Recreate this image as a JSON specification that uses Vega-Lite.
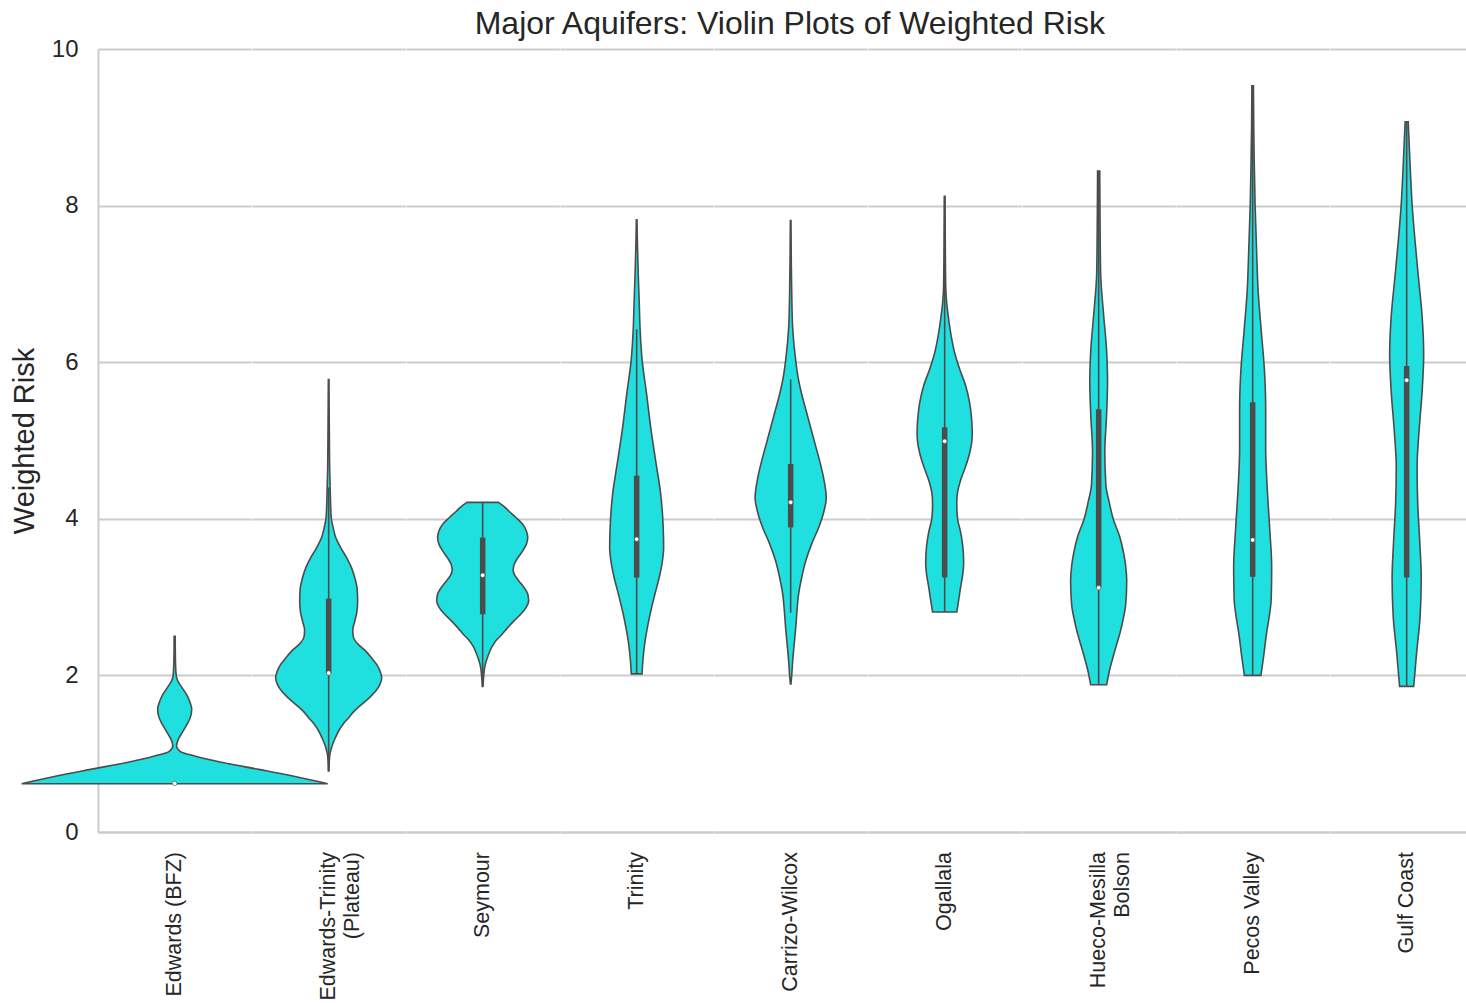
{
  "$schema": "https://vega.github.io/schema/vega-lite/v6.json",
  "padding": {"left": 10, "top": 8, "right": 0, "bottom": 0},
  "bounds": "flush",
  "title": {"text": "Major Aquifers: Violin Plots of Weighted Risk", "fontSize": 32, "fontWeight": "normal", "color": "#262626", "font": "Liberation Sans", "anchor": "middle", "offset": -4, "dx": 43},
  "config": {
    "view": {"stroke": null},
    "font": "Liberation Sans"
  },
  "data": {"values": [
    {"a": "Edwards (BFZ)", "k": "d", "v": 0.617, "d0": -0.998, "d1": 0.998},
    {"a": "Edwards (BFZ)", "k": "d", "v": 0.715, "d0": -0.770, "d1": 0.770},
    {"a": "Edwards (BFZ)", "k": "d", "v": 0.80, "d0": -0.548, "d1": 0.548},
    {"a": "Edwards (BFZ)", "k": "d", "v": 0.885, "d0": -0.320, "d1": 0.320},
    {"a": "Edwards (BFZ)", "k": "d", "v": 0.97, "d0": -0.131, "d1": 0.131},
    {"a": "Edwards (BFZ)", "k": "d", "v": 1.03, "d0": -0.035, "d1": 0.035},
    {"a": "Edwards (BFZ)", "k": "d", "v": 1.10, "d0": -0.012, "d1": 0.012},
    {"a": "Edwards (BFZ)", "k": "d", "v": 1.18, "d0": -0.023, "d1": 0.023},
    {"a": "Edwards (BFZ)", "k": "d", "v": 1.28, "d0": -0.052, "d1": 0.052},
    {"a": "Edwards (BFZ)", "k": "d", "v": 1.38, "d0": -0.082, "d1": 0.082},
    {"a": "Edwards (BFZ)", "k": "d", "v": 1.48, "d0": -0.105, "d1": 0.105},
    {"a": "Edwards (BFZ)", "k": "d", "v": 1.57, "d0": -0.111, "d1": 0.111},
    {"a": "Edwards (BFZ)", "k": "d", "v": 1.65, "d0": -0.101, "d1": 0.101},
    {"a": "Edwards (BFZ)", "k": "d", "v": 1.75, "d0": -0.079, "d1": 0.079},
    {"a": "Edwards (BFZ)", "k": "d", "v": 1.85, "d0": -0.046, "d1": 0.046},
    {"a": "Edwards (BFZ)", "k": "d", "v": 1.93, "d0": -0.020, "d1": 0.020},
    {"a": "Edwards (BFZ)", "k": "d", "v": 2.00, "d0": -0.010, "d1": 0.010},
    {"a": "Edwards (BFZ)", "k": "d", "v": 2.20, "d0": -0.005, "d1": 0.005},
    {"a": "Edwards (BFZ)", "k": "d", "v": 2.50, "d0": -0.0035, "d1": 0.0035},

    {"a": "Edwards-Trinity (Plateau)", "k": "d", "v": 0.78, "d0": -0.002, "d1": 0.002},
    {"a": "Edwards-Trinity (Plateau)", "k": "d", "v": 0.90, "d0": -0.004, "d1": 0.004},
    {"a": "Edwards-Trinity (Plateau)", "k": "d", "v": 0.99, "d0": -0.008, "d1": 0.008},
    {"a": "Edwards-Trinity (Plateau)", "k": "d", "v": 1.05, "d0": -0.015, "d1": 0.015},
    {"a": "Edwards-Trinity (Plateau)", "k": "d", "v": 1.12, "d0": -0.026, "d1": 0.026},
    {"a": "Edwards-Trinity (Plateau)", "k": "d", "v": 1.20, "d0": -0.043, "d1": 0.043},
    {"a": "Edwards-Trinity (Plateau)", "k": "d", "v": 1.29, "d0": -0.065, "d1": 0.065},
    {"a": "Edwards-Trinity (Plateau)", "k": "d", "v": 1.38, "d0": -0.095, "d1": 0.095},
    {"a": "Edwards-Trinity (Plateau)", "k": "d", "v": 1.46, "d0": -0.131, "d1": 0.131},
    {"a": "Edwards-Trinity (Plateau)", "k": "d", "v": 1.55, "d0": -0.170, "d1": 0.170},
    {"a": "Edwards-Trinity (Plateau)", "k": "d", "v": 1.63, "d0": -0.215, "d1": 0.215},
    {"a": "Edwards-Trinity (Plateau)", "k": "d", "v": 1.72, "d0": -0.268, "d1": 0.268},
    {"a": "Edwards-Trinity (Plateau)", "k": "d", "v": 1.80, "d0": -0.307, "d1": 0.307},
    {"a": "Edwards-Trinity (Plateau)", "k": "d", "v": 1.88, "d0": -0.333, "d1": 0.333},
    {"a": "Edwards-Trinity (Plateau)", "k": "d", "v": 1.97, "d0": -0.346, "d1": 0.346},
    {"a": "Edwards-Trinity (Plateau)", "k": "d", "v": 2.05, "d0": -0.336, "d1": 0.336},
    {"a": "Edwards-Trinity (Plateau)", "k": "d", "v": 2.14, "d0": -0.313, "d1": 0.313},
    {"a": "Edwards-Trinity (Plateau)", "k": "d", "v": 2.22, "d0": -0.281, "d1": 0.281},
    {"a": "Edwards-Trinity (Plateau)", "k": "d", "v": 2.31, "d0": -0.242, "d1": 0.242},
    {"a": "Edwards-Trinity (Plateau)", "k": "d", "v": 2.41, "d0": -0.186, "d1": 0.186},
    {"a": "Edwards-Trinity (Plateau)", "k": "d", "v": 2.50, "d0": -0.160, "d1": 0.160},
    {"a": "Edwards-Trinity (Plateau)", "k": "d", "v": 2.58, "d0": -0.157, "d1": 0.157},
    {"a": "Edwards-Trinity (Plateau)", "k": "d", "v": 2.69, "d0": -0.170, "d1": 0.170},
    {"a": "Edwards-Trinity (Plateau)", "k": "d", "v": 2.80, "d0": -0.183, "d1": 0.183},
    {"a": "Edwards-Trinity (Plateau)", "k": "d", "v": 2.95, "d0": -0.189, "d1": 0.189},
    {"a": "Edwards-Trinity (Plateau)", "k": "d", "v": 3.10, "d0": -0.186, "d1": 0.186},
    {"a": "Edwards-Trinity (Plateau)", "k": "d", "v": 3.25, "d0": -0.170, "d1": 0.170},
    {"a": "Edwards-Trinity (Plateau)", "k": "d", "v": 3.37, "d0": -0.150, "d1": 0.150},
    {"a": "Edwards-Trinity (Plateau)", "k": "d", "v": 3.50, "d0": -0.118, "d1": 0.118},
    {"a": "Edwards-Trinity (Plateau)", "k": "d", "v": 3.63, "d0": -0.079, "d1": 0.079},
    {"a": "Edwards-Trinity (Plateau)", "k": "d", "v": 3.76, "d0": -0.046, "d1": 0.046},
    {"a": "Edwards-Trinity (Plateau)", "k": "d", "v": 3.88, "d0": -0.030, "d1": 0.030},
    {"a": "Edwards-Trinity (Plateau)", "k": "d", "v": 4.01, "d0": -0.017, "d1": 0.017},
    {"a": "Edwards-Trinity (Plateau)", "k": "d", "v": 4.30, "d0": -0.011, "d1": 0.011},
    {"a": "Edwards-Trinity (Plateau)", "k": "d", "v": 4.60, "d0": -0.007, "d1": 0.007},
    {"a": "Edwards-Trinity (Plateau)", "k": "d", "v": 5.20, "d0": -0.004, "d1": 0.004},
    {"a": "Edwards-Trinity (Plateau)", "k": "d", "v": 5.78, "d0": -0.002, "d1": 0.002},

    {"a": "Seymour", "k": "d", "v": 1.86, "d0": -0.002, "d1": 0.002},
    {"a": "Seymour", "k": "d", "v": 2.00, "d0": -0.007, "d1": 0.007},
    {"a": "Seymour", "k": "d", "v": 2.10, "d0": -0.013, "d1": 0.013},
    {"a": "Seymour", "k": "d", "v": 2.18, "d0": -0.023, "d1": 0.023},
    {"a": "Seymour", "k": "d", "v": 2.27, "d0": -0.039, "d1": 0.039},
    {"a": "Seymour", "k": "d", "v": 2.36, "d0": -0.059, "d1": 0.059},
    {"a": "Seymour", "k": "d", "v": 2.44, "d0": -0.085, "d1": 0.085},
    {"a": "Seymour", "k": "d", "v": 2.52, "d0": -0.124, "d1": 0.124},
    {"a": "Seymour", "k": "d", "v": 2.61, "d0": -0.163, "d1": 0.163},
    {"a": "Seymour", "k": "d", "v": 2.70, "d0": -0.206, "d1": 0.206},
    {"a": "Seymour", "k": "d", "v": 2.78, "d0": -0.248, "d1": 0.248},
    {"a": "Seymour", "k": "d", "v": 2.87, "d0": -0.284, "d1": 0.284},
    {"a": "Seymour", "k": "d", "v": 2.95, "d0": -0.300, "d1": 0.300},
    {"a": "Seymour", "k": "d", "v": 3.04, "d0": -0.294, "d1": 0.294},
    {"a": "Seymour", "k": "d", "v": 3.12, "d0": -0.271, "d1": 0.271},
    {"a": "Seymour", "k": "d", "v": 3.21, "d0": -0.235, "d1": 0.235},
    {"a": "Seymour", "k": "d", "v": 3.28, "d0": -0.209, "d1": 0.209},
    {"a": "Seymour", "k": "d", "v": 3.35, "d0": -0.199, "d1": 0.199},
    {"a": "Seymour", "k": "d", "v": 3.42, "d0": -0.206, "d1": 0.206},
    {"a": "Seymour", "k": "d", "v": 3.50, "d0": -0.229, "d1": 0.229},
    {"a": "Seymour", "k": "d", "v": 3.59, "d0": -0.261, "d1": 0.261},
    {"a": "Seymour", "k": "d", "v": 3.67, "d0": -0.284, "d1": 0.284},
    {"a": "Seymour", "k": "d", "v": 3.76, "d0": -0.294, "d1": 0.294},
    {"a": "Seymour", "k": "d", "v": 3.85, "d0": -0.284, "d1": 0.284},
    {"a": "Seymour", "k": "d", "v": 3.93, "d0": -0.261, "d1": 0.261},
    {"a": "Seymour", "k": "d", "v": 4.02, "d0": -0.215, "d1": 0.215},
    {"a": "Seymour", "k": "d", "v": 4.10, "d0": -0.170, "d1": 0.170},
    {"a": "Seymour", "k": "d", "v": 4.15, "d0": -0.144, "d1": 0.144},
    {"a": "Seymour", "k": "d", "v": 4.21, "d0": -0.103, "d1": 0.103},

    {"a": "Trinity", "k": "d", "v": 2.02, "d0": -0.035, "d1": 0.035},
    {"a": "Trinity", "k": "d", "v": 2.20, "d0": -0.041, "d1": 0.041},
    {"a": "Trinity", "k": "d", "v": 2.40, "d0": -0.052, "d1": 0.052},
    {"a": "Trinity", "k": "d", "v": 2.60, "d0": -0.069, "d1": 0.069},
    {"a": "Trinity", "k": "d", "v": 2.82, "d0": -0.092, "d1": 0.092},
    {"a": "Trinity", "k": "d", "v": 3.03, "d0": -0.118, "d1": 0.118},
    {"a": "Trinity", "k": "d", "v": 3.25, "d0": -0.147, "d1": 0.147},
    {"a": "Trinity", "k": "d", "v": 3.45, "d0": -0.167, "d1": 0.167},
    {"a": "Trinity", "k": "d", "v": 3.63, "d0": -0.176, "d1": 0.176},
    {"a": "Trinity", "k": "d", "v": 3.89, "d0": -0.173, "d1": 0.173},
    {"a": "Trinity", "k": "d", "v": 4.10, "d0": -0.167, "d1": 0.167},
    {"a": "Trinity", "k": "d", "v": 4.31, "d0": -0.157, "d1": 0.157},
    {"a": "Trinity", "k": "d", "v": 4.74, "d0": -0.124, "d1": 0.124},
    {"a": "Trinity", "k": "d", "v": 5.16, "d0": -0.092, "d1": 0.092},
    {"a": "Trinity", "k": "d", "v": 5.59, "d0": -0.065, "d1": 0.065},
    {"a": "Trinity", "k": "d", "v": 6.02, "d0": -0.036, "d1": 0.036},
    {"a": "Trinity", "k": "d", "v": 6.44, "d0": -0.022, "d1": 0.022},
    {"a": "Trinity", "k": "d", "v": 6.75, "d0": -0.017, "d1": 0.017},
    {"a": "Trinity", "k": "d", "v": 7.08, "d0": -0.011, "d1": 0.011},
    {"a": "Trinity", "k": "d", "v": 7.50, "d0": -0.005, "d1": 0.005},
    {"a": "Trinity", "k": "d", "v": 7.82, "d0": -0.002, "d1": 0.002},

    {"a": "Carrizo-Wilcox", "k": "d", "v": 1.89, "d0": -0.002, "d1": 0.002},
    {"a": "Carrizo-Wilcox", "k": "d", "v": 2.00, "d0": -0.007, "d1": 0.007},
    {"a": "Carrizo-Wilcox", "k": "d", "v": 2.18, "d0": -0.013, "d1": 0.013},
    {"a": "Carrizo-Wilcox", "k": "d", "v": 2.40, "d0": -0.023, "d1": 0.023},
    {"a": "Carrizo-Wilcox", "k": "d", "v": 2.61, "d0": -0.033, "d1": 0.033},
    {"a": "Carrizo-Wilcox", "k": "d", "v": 2.82, "d0": -0.041, "d1": 0.041},
    {"a": "Carrizo-Wilcox", "k": "d", "v": 3.04, "d0": -0.052, "d1": 0.052},
    {"a": "Carrizo-Wilcox", "k": "d", "v": 3.25, "d0": -0.072, "d1": 0.072},
    {"a": "Carrizo-Wilcox", "k": "d", "v": 3.46, "d0": -0.098, "d1": 0.098},
    {"a": "Carrizo-Wilcox", "k": "d", "v": 3.68, "d0": -0.137, "d1": 0.137},
    {"a": "Carrizo-Wilcox", "k": "d", "v": 3.89, "d0": -0.183, "d1": 0.183},
    {"a": "Carrizo-Wilcox", "k": "d", "v": 4.08, "d0": -0.215, "d1": 0.215},
    {"a": "Carrizo-Wilcox", "k": "d", "v": 4.27, "d0": -0.232, "d1": 0.232},
    {"a": "Carrizo-Wilcox", "k": "d", "v": 4.52, "d0": -0.215, "d1": 0.215},
    {"a": "Carrizo-Wilcox", "k": "d", "v": 4.74, "d0": -0.189, "d1": 0.189},
    {"a": "Carrizo-Wilcox", "k": "d", "v": 4.95, "d0": -0.160, "d1": 0.160},
    {"a": "Carrizo-Wilcox", "k": "d", "v": 5.16, "d0": -0.131, "d1": 0.131},
    {"a": "Carrizo-Wilcox", "k": "d", "v": 5.38, "d0": -0.101, "d1": 0.101},
    {"a": "Carrizo-Wilcox", "k": "d", "v": 5.59, "d0": -0.072, "d1": 0.072},
    {"a": "Carrizo-Wilcox", "k": "d", "v": 5.80, "d0": -0.049, "d1": 0.049},
    {"a": "Carrizo-Wilcox", "k": "d", "v": 6.02, "d0": -0.033, "d1": 0.033},
    {"a": "Carrizo-Wilcox", "k": "d", "v": 6.44, "d0": -0.013, "d1": 0.013},
    {"a": "Carrizo-Wilcox", "k": "d", "v": 6.87, "d0": -0.007, "d1": 0.007},
    {"a": "Carrizo-Wilcox", "k": "d", "v": 7.30, "d0": -0.004, "d1": 0.004},
    {"a": "Carrizo-Wilcox", "k": "d", "v": 7.81, "d0": -0.002, "d1": 0.002},

    {"a": "Ogallala", "k": "d", "v": 2.81, "d0": -0.079, "d1": 0.079},
    {"a": "Ogallala", "k": "d", "v": 2.97, "d0": -0.092, "d1": 0.092},
    {"a": "Ogallala", "k": "d", "v": 3.14, "d0": -0.105, "d1": 0.105},
    {"a": "Ogallala", "k": "d", "v": 3.29, "d0": -0.118, "d1": 0.118},
    {"a": "Ogallala", "k": "d", "v": 3.44, "d0": -0.124, "d1": 0.124},
    {"a": "Ogallala", "k": "d", "v": 3.65, "d0": -0.118, "d1": 0.118},
    {"a": "Ogallala", "k": "d", "v": 3.82, "d0": -0.105, "d1": 0.105},
    {"a": "Ogallala", "k": "d", "v": 3.99, "d0": -0.085, "d1": 0.085},
    {"a": "Ogallala", "k": "d", "v": 4.10, "d0": -0.080, "d1": 0.080},
    {"a": "Ogallala", "k": "d", "v": 4.21, "d0": -0.079, "d1": 0.079},
    {"a": "Ogallala", "k": "d", "v": 4.35, "d0": -0.085, "d1": 0.085},
    {"a": "Ogallala", "k": "d", "v": 4.50, "d0": -0.105, "d1": 0.105},
    {"a": "Ogallala", "k": "d", "v": 4.67, "d0": -0.137, "d1": 0.137},
    {"a": "Ogallala", "k": "d", "v": 4.84, "d0": -0.163, "d1": 0.163},
    {"a": "Ogallala", "k": "d", "v": 4.97, "d0": -0.176, "d1": 0.176},
    {"a": "Ogallala", "k": "d", "v": 5.10, "d0": -0.180, "d1": 0.180},
    {"a": "Ogallala", "k": "d", "v": 5.27, "d0": -0.176, "d1": 0.176},
    {"a": "Ogallala", "k": "d", "v": 5.48, "d0": -0.163, "d1": 0.163},
    {"a": "Ogallala", "k": "d", "v": 5.70, "d0": -0.137, "d1": 0.137},
    {"a": "Ogallala", "k": "d", "v": 5.91, "d0": -0.098, "d1": 0.098},
    {"a": "Ogallala", "k": "d", "v": 6.12, "d0": -0.065, "d1": 0.065},
    {"a": "Ogallala", "k": "d", "v": 6.33, "d0": -0.043, "d1": 0.043},
    {"a": "Ogallala", "k": "d", "v": 6.55, "d0": -0.026, "d1": 0.026},
    {"a": "Ogallala", "k": "d", "v": 6.76, "d0": -0.013, "d1": 0.013},
    {"a": "Ogallala", "k": "d", "v": 6.97, "d0": -0.007, "d1": 0.007},
    {"a": "Ogallala", "k": "d", "v": 7.50, "d0": -0.004, "d1": 0.004},
    {"a": "Ogallala", "k": "d", "v": 8.12, "d0": -0.002, "d1": 0.002},

    {"a": "Hueco-Mesilla Bolson", "k": "d", "v": 1.88, "d0": -0.052, "d1": 0.052},
    {"a": "Hueco-Mesilla Bolson", "k": "d", "v": 2.05, "d0": -0.069, "d1": 0.069},
    {"a": "Hueco-Mesilla Bolson", "k": "d", "v": 2.25, "d0": -0.096, "d1": 0.096},
    {"a": "Hueco-Mesilla Bolson", "k": "d", "v": 2.40, "d0": -0.118, "d1": 0.118},
    {"a": "Hueco-Mesilla Bolson", "k": "d", "v": 2.55, "d0": -0.140, "d1": 0.140},
    {"a": "Hueco-Mesilla Bolson", "k": "d", "v": 2.72, "d0": -0.160, "d1": 0.160},
    {"a": "Hueco-Mesilla Bolson", "k": "d", "v": 2.90, "d0": -0.176, "d1": 0.176},
    {"a": "Hueco-Mesilla Bolson", "k": "d", "v": 3.21, "d0": -0.183, "d1": 0.183},
    {"a": "Hueco-Mesilla Bolson", "k": "d", "v": 3.40, "d0": -0.176, "d1": 0.176},
    {"a": "Hueco-Mesilla Bolson", "k": "d", "v": 3.56, "d0": -0.163, "d1": 0.163},
    {"a": "Hueco-Mesilla Bolson", "k": "d", "v": 3.78, "d0": -0.136, "d1": 0.136},
    {"a": "Hueco-Mesilla Bolson", "k": "d", "v": 3.99, "d0": -0.096, "d1": 0.096},
    {"a": "Hueco-Mesilla Bolson", "k": "d", "v": 4.21, "d0": -0.069, "d1": 0.069},
    {"a": "Hueco-Mesilla Bolson", "k": "d", "v": 4.43, "d0": -0.047, "d1": 0.047},
    {"a": "Hueco-Mesilla Bolson", "k": "d", "v": 4.86, "d0": -0.040, "d1": 0.040},
    {"a": "Hueco-Mesilla Bolson", "k": "d", "v": 5.30, "d0": -0.051, "d1": 0.051},
    {"a": "Hueco-Mesilla Bolson", "k": "d", "v": 5.74, "d0": -0.058, "d1": 0.058},
    {"a": "Hueco-Mesilla Bolson", "k": "d", "v": 6.17, "d0": -0.051, "d1": 0.051},
    {"a": "Hueco-Mesilla Bolson", "k": "d", "v": 6.61, "d0": -0.032, "d1": 0.032},
    {"a": "Hueco-Mesilla Bolson", "k": "d", "v": 7.13, "d0": -0.013, "d1": 0.013},
    {"a": "Hueco-Mesilla Bolson", "k": "d", "v": 7.80, "d0": -0.009, "d1": 0.009},
    {"a": "Hueco-Mesilla Bolson", "k": "d", "v": 8.44, "d0": -0.007, "d1": 0.007},

    {"a": "Pecos Valley", "k": "d", "v": 2.00, "d0": -0.054, "d1": 0.054},
    {"a": "Pecos Valley", "k": "d", "v": 2.25, "d0": -0.072, "d1": 0.072},
    {"a": "Pecos Valley", "k": "d", "v": 2.53, "d0": -0.090, "d1": 0.090},
    {"a": "Pecos Valley", "k": "d", "v": 2.75, "d0": -0.108, "d1": 0.108},
    {"a": "Pecos Valley", "k": "d", "v": 2.98, "d0": -0.121, "d1": 0.121},
    {"a": "Pecos Valley", "k": "d", "v": 3.38, "d0": -0.124, "d1": 0.124},
    {"a": "Pecos Valley", "k": "d", "v": 3.88, "d0": -0.111, "d1": 0.111},
    {"a": "Pecos Valley", "k": "d", "v": 4.39, "d0": -0.095, "d1": 0.095},
    {"a": "Pecos Valley", "k": "d", "v": 4.89, "d0": -0.085, "d1": 0.085},
    {"a": "Pecos Valley", "k": "d", "v": 5.39, "d0": -0.085, "d1": 0.085},
    {"a": "Pecos Valley", "k": "d", "v": 5.89, "d0": -0.077, "d1": 0.077},
    {"a": "Pecos Valley", "k": "d", "v": 6.40, "d0": -0.056, "d1": 0.056},
    {"a": "Pecos Valley", "k": "d", "v": 6.90, "d0": -0.036, "d1": 0.036},
    {"a": "Pecos Valley", "k": "d", "v": 7.40, "d0": -0.026, "d1": 0.026},
    {"a": "Pecos Valley", "k": "d", "v": 8.00, "d0": -0.016, "d1": 0.016},
    {"a": "Pecos Valley", "k": "d", "v": 8.60, "d0": -0.010, "d1": 0.010},
    {"a": "Pecos Valley", "k": "d", "v": 9.00, "d0": -0.007, "d1": 0.007},
    {"a": "Pecos Valley", "k": "d", "v": 9.53, "d0": -0.005, "d1": 0.005},

    {"a": "Gulf Coast", "k": "d", "v": 1.86, "d0": -0.046, "d1": 0.046},
    {"a": "Gulf Coast", "k": "d", "v": 2.29, "d0": -0.065, "d1": 0.065},
    {"a": "Gulf Coast", "k": "d", "v": 2.76, "d0": -0.088, "d1": 0.088},
    {"a": "Gulf Coast", "k": "d", "v": 3.24, "d0": -0.095, "d1": 0.095},
    {"a": "Gulf Coast", "k": "d", "v": 3.72, "d0": -0.085, "d1": 0.085},
    {"a": "Gulf Coast", "k": "d", "v": 4.20, "d0": -0.072, "d1": 0.072},
    {"a": "Gulf Coast", "k": "d", "v": 4.67, "d0": -0.068, "d1": 0.068},
    {"a": "Gulf Coast", "k": "d", "v": 5.15, "d0": -0.082, "d1": 0.082},
    {"a": "Gulf Coast", "k": "d", "v": 5.63, "d0": -0.101, "d1": 0.101},
    {"a": "Gulf Coast", "k": "d", "v": 6.10, "d0": -0.111, "d1": 0.111},
    {"a": "Gulf Coast", "k": "d", "v": 6.58, "d0": -0.101, "d1": 0.101},
    {"a": "Gulf Coast", "k": "d", "v": 7.06, "d0": -0.078, "d1": 0.078},
    {"a": "Gulf Coast", "k": "d", "v": 7.54, "d0": -0.055, "d1": 0.055},
    {"a": "Gulf Coast", "k": "d", "v": 8.00, "d0": -0.036, "d1": 0.036},
    {"a": "Gulf Coast", "k": "d", "v": 8.49, "d0": -0.023, "d1": 0.023},
    {"a": "Gulf Coast", "k": "d", "v": 9.07, "d0": -0.010, "d1": 0.010},

    {"a": "Edwards (BFZ)", "k": "b", "lo": 0.62, "q1": 0.62, "med": 0.62, "q3": 0.62, "hi": 0.62},
    {"a": "Edwards-Trinity (Plateau)", "k": "b", "lo": 0.78, "q1": 2.03, "med": 2.03, "q3": 2.98, "hi": 4.4},
    {"a": "Seymour", "k": "b", "lo": 1.86, "q1": 2.78, "med": 3.28, "q3": 3.76, "hi": 4.21},
    {"a": "Trinity", "k": "b", "lo": 2.02, "q1": 3.25, "med": 3.74, "q3": 4.55, "hi": 6.42},
    {"a": "Carrizo-Wilcox", "k": "b", "lo": 2.80, "q1": 3.89, "med": 4.21, "q3": 4.70, "hi": 5.78},
    {"a": "Ogallala", "k": "b", "lo": 2.81, "q1": 3.25, "med": 4.99, "q3": 5.17, "hi": 8.12},
    {"a": "Hueco-Mesilla Bolson", "k": "b", "lo": 1.88, "q1": 3.12, "med": 3.12, "q3": 5.40, "hi": 8.44},
    {"a": "Pecos Valley", "k": "b", "lo": 2.00, "q1": 3.26, "med": 3.73, "q3": 5.49, "hi": 9.53},
    {"a": "Gulf Coast", "k": "b", "lo": 1.86, "q1": 3.25, "med": 5.77, "q3": 5.95, "hi": 9.07}
  ]},
  "spacing": 0,
  "facet": {
    "column": {
      "field": "a", "type": "nominal", "title": null,
      "sort": ["Edwards (BFZ)", "Edwards-Trinity (Plateau)", "Seymour", "Trinity", "Carrizo-Wilcox", "Ogallala", "Hueco-Mesilla Bolson", "Pecos Valley", "Gulf Coast"],
      "header": {
        "labelOrient": "bottom", "labelAngle": -90, "labelAlign": "right", "labelBaseline": "middle",
        "labelFontSize": 21.5, "labelFont": "Liberation Sans", "labelColor": "#262626", "labelPadding": 20, "labelLineHeight": 24,
        "labelExpr": "datum.value == 'Edwards-Trinity (Plateau)' ? ['Edwards-Trinity', '(Plateau)'] : datum.value == 'Hueco-Mesilla Bolson' ? ['Hueco-Mesilla', 'Bolson'] : datum.value"
      }
    }
  },
  "spec": {
    "width": 153.33,
    "height": 783,
    "layer": [
      {
        "transform": [{"filter": "datum.k === 'd'"}],
        "mark": {"type": "area", "orient": "horizontal", "fill": "#20dfdf", "stroke": "#4c4c4c", "strokeWidth": 1.6, "interpolate": "monotone", "clip": false, "fillOpacity": 1},
        "encoding": {
          "y": {"field": "v", "type": "quantitative", "scale": {"domain": [0, 10], "nice": false, "zero": false},
                "axis": {"title": "Weighted Risk", "titleFontSize": 29, "titleFontWeight": "normal", "titleColor": "#262626", "titlePadding": 12,
                         "labelFontSize": 24, "labelColor": "#262626", "labelPadding": 20, "ticks": false,
                         "values": [0, 2, 4, 6, 8, 10], "format": "d",
                         "grid": true, "gridColor": "#cccccc", "gridWidth": 2, "domainColor": "#cccccc", "domainWidth": 2}},
          "x": {"field": "d0", "type": "quantitative",
                "scale": {"domain": [-0.5, 0.5], "nice": false, "zero": false},
                "axis": {"title": null, "labels": false, "ticks": false, "grid": false, "domainColor": "#cccccc", "domainWidth": 2}},
          "x2": {"field": "d1"}
        }
      },
      {
        "transform": [{"filter": "datum.k === 'b'"}],
        "mark": {"type": "rule", "color": "#4c4c4c", "strokeWidth": 1.6},
        "encoding": {
          "x": {"datum": 0, "type": "quantitative"},
          "y": {"field": "lo", "type": "quantitative"},
          "y2": {"field": "hi"}
        }
      },
      {
        "transform": [{"filter": "datum.k === 'b'"}],
        "mark": {"type": "rule", "color": "#4c4c4c", "strokeWidth": 5.5},
        "encoding": {
          "x": {"datum": 0, "type": "quantitative"},
          "y": {"field": "q1", "type": "quantitative"},
          "y2": {"field": "q3"}
        }
      },
      {
        "transform": [{"filter": "datum.k === 'b'"}],
        "mark": {"type": "point", "filled": true, "fill": "white", "stroke": "#4c4c4c", "strokeWidth": 0.6, "size": 20, "opacity": 1},
        "encoding": {
          "x": {"datum": 0, "type": "quantitative"},
          "y": {"field": "med", "type": "quantitative"}
        }
      }
    ]
  }
}
